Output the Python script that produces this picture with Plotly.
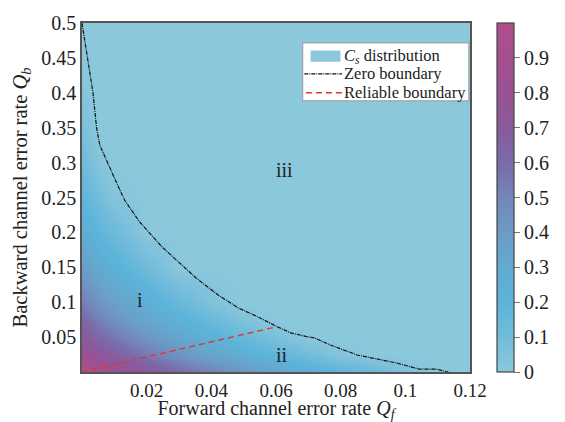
import plotly.graph_objects as go

# Grid of forward (Qf) and backward (Qb) error rates
qf_grid = [0, 0.005, 0.01, 0.02, 0.03, 0.04, 0.05, 0.06, 0.07, 0.08, 0.09, 0.1, 0.11, 0.12]
qb_grid = [0, 0.025, 0.05, 0.075, 0.1, 0.15, 0.2, 0.25, 0.3, 0.35, 0.4, 0.45, 0.5]

# Cs values (rows: Qb, cols: Qf)
cs_values = [
    [1.00, 0.91, 0.84, 0.72, 0.61, 0.52, 0.43, 0.35, 0.27, 0.20, 0.13, 0.06, 0, 0],
    [0.83, 0.74, 0.67, 0.55, 0.44, 0.35, 0.26, 0.18, 0.10, 0.03, 0, 0, 0, 0],
    [0.71, 0.62, 0.55, 0.43, 0.33, 0.23, 0.14, 0.06, 0, 0, 0, 0, 0, 0],
    [0.62, 0.53, 0.45, 0.33, 0.23, 0.13, 0.04, 0, 0, 0, 0, 0, 0, 0],
    [0.53, 0.44, 0.37, 0.25, 0.14, 0.05, 0, 0, 0, 0, 0, 0, 0, 0],
    [0.39, 0.30, 0.23, 0.11, 0, 0, 0, 0, 0, 0, 0, 0, 0, 0],
    [0.28, 0.19, 0.12, 0, 0, 0, 0, 0, 0, 0, 0, 0, 0, 0],
    [0.19, 0.10, 0.03, 0, 0, 0, 0, 0, 0, 0, 0, 0, 0, 0],
    [0.12, 0.03, 0, 0, 0, 0, 0, 0, 0, 0, 0, 0, 0, 0],
    [0.07, 0, 0, 0, 0, 0, 0, 0, 0, 0, 0, 0, 0, 0],
    [0.03, 0, 0, 0, 0, 0, 0, 0, 0, 0, 0, 0, 0, 0],
    [0.01, 0, 0, 0, 0, 0, 0, 0, 0, 0, 0, 0, 0, 0],
    [0, 0, 0, 0, 0, 0, 0, 0, 0, 0, 0, 0, 0, 0],
]

# Zero boundary (Cs = 0)
zero_qf = [0, 0.0018, 0.0034, 0.0045, 0.0055, 0.0107, 0.0132, 0.0178, 0.0248, 0.0352,
           0.0422, 0.0484, 0.0545, 0.0603, 0.0646, 0.0692, 0.072, 0.0768, 0.0851,
           0.0973, 0.1044, 0.1096, 0.1133]
zero_qb = [0.5, 0.45, 0.4, 0.35, 0.325, 0.271, 0.246, 0.215, 0.179, 0.135,
           0.110, 0.0917, 0.0788, 0.065, 0.056, 0.051, 0.0487, 0.0387, 0.0244,
           0.0129, 0.004, 0.004, 0]

# Reliable boundary
rel_qf = [0, 0.0603]
rel_qb = [0, 0.065]

# Region labels
region_text = ["i", "ii", "iii"]
region_qf = [0.0178, 0.062, 0.0625]
region_qb = [0.103, 0.024, 0.289]

# Legend entries
legend_names = ["<i>C<sub>s</sub></i> distribution", "Zero boundary", "Reliable boundary"]

xticks = [0.02, 0.04, 0.06, 0.08, 0.1, 0.12]
yticks = [0.05, 0.1, 0.15, 0.2, 0.25, 0.3, 0.35, 0.4, 0.45, 0.5]
cbticks = [0, 0.1, 0.2, 0.3, 0.4, 0.5, 0.6, 0.7, 0.8, 0.9]

colorscale = [
    [0.0, "#8CC8DC"],
    [0.1, "#72BCDA"],
    [0.2, "#5CB4DA"],
    [0.3, "#62AAD0"],
    [0.4, "#6C9CC6"],
    [0.5, "#7486BA"],
    [0.6, "#7B6AAA"],
    [0.7, "#8A5A9C"],
    [0.8, "#985294"],
    [0.9, "#A64F8E"],
    [1.0, "#B04E8C"],
]

FONT = "Liberation Serif"
ZERO_DASH = "4px,1px,1px,1px"
REL_DASH = "6px,4px"
PATCH = "#8CC8DC"

fig = go.Figure()
fig.add_trace(go.Heatmap(
    x=qf_grid, y=qb_grid, z=cs_values, zsmooth="best",
    zmin=0, zmax=1.0, colorscale=colorscale, showlegend=False,
    colorbar=dict(
        x=1.061, xanchor="left", xref="paper", xpad=3, ypad=0,
        y=0.5, yanchor="middle",
        len=1.0, thickness=17, outlinecolor="#444", outlinewidth=1.2,
        tickvals=cbticks, ticktext=[str(t) for t in cbticks],
        ticks="outside", ticklen=6, tickcolor="#777",
        tickfont=dict(family=FONT, size=20, color="#222"),
    ),
))
fig.add_trace(go.Scatter(
    x=zero_qf, y=zero_qb, mode="lines", showlegend=False,
    line=dict(color="#111", width=1.2, dash=ZERO_DASH),
    name="Zero boundary",
))
fig.add_trace(go.Scatter(
    x=rel_qf, y=rel_qb, mode="lines", showlegend=False,
    line=dict(color="#E03535", width=1.4, dash=REL_DASH),
    name="Reliable boundary",
))

for t, xq, yq in zip(region_text, region_qf, region_qb):
    fig.add_annotation(x=xq, y=yq, text=t, showarrow=False,
                       font=dict(family=FONT, size=20, color="#222"))

# Hand-drawn legend box (paper coordinates)
fig.add_shape(type="rect", xref="paper", yref="paper",
              x0=0.569, x1=0.997, y0=0.777, y1=0.943,
              fillcolor="white", line=dict(color="#999", width=1))
row_y = [0.905, 0.854, 0.800]
fig.add_shape(type="rect", xref="paper", yref="paper",
              x0=0.589, x1=0.666, y0=row_y[0] - 0.016, y1=row_y[0] + 0.016,
              fillcolor=PATCH, line=dict(width=0))
fig.add_shape(type="line", xref="paper", yref="paper",
              x0=0.573, x1=0.670, y0=row_y[1], y1=row_y[1],
              line=dict(color="#111", width=1.2, dash=ZERO_DASH))
fig.add_shape(type="line", xref="paper", yref="paper",
              x0=0.577, x1=0.670, y0=row_y[2], y1=row_y[2],
              line=dict(color="#E03535", width=1.4, dash=REL_DASH))
for name, yy in zip(legend_names, row_y):
    fig.add_annotation(xref="paper", yref="paper", x=0.669, y=yy, text=name,
                       showarrow=False, xanchor="left", yanchor="middle",
                       font=dict(family=FONT, size=16.5, color="#222"))

fig.update_layout(
    width=557, height=414,
    margin=dict(l=74, r=91, t=15, b=50),
    paper_bgcolor="white", plot_bgcolor="white",
    font=dict(family=FONT, color="#222"),
    showlegend=False,
    xaxis=dict(
        range=[0, 0.12], tickvals=xticks, ticktext=[str(t) for t in xticks],
        showgrid=False, zeroline=False, showline=True, linecolor="#555",
        linewidth=1.5, mirror=True, ticks="", automargin=False,
        tickfont=dict(family=FONT, size=19, color="#222"),
        title=dict(text="Forward channel error rate <i>Q<sub>f</sub></i>",
                   font=dict(family=FONT, size=20, color="#222"), standoff=6),
    ),
    yaxis=dict(
        range=[0, 0.5], tickvals=yticks, ticktext=[str(t) for t in yticks],
        showgrid=False, zeroline=False, showline=True, linecolor="#555",
        linewidth=1.5, mirror=True, ticks="", automargin=False,
        tickfont=dict(family=FONT, size=20, color="#222"),
        title=dict(text="Backward channel error rate <i>Q<sub>b</sub></i>",
                   font=dict(family=FONT, size=20.5, color="#222"), standoff=8),
    ),
)

fig.write_html("out.html")
